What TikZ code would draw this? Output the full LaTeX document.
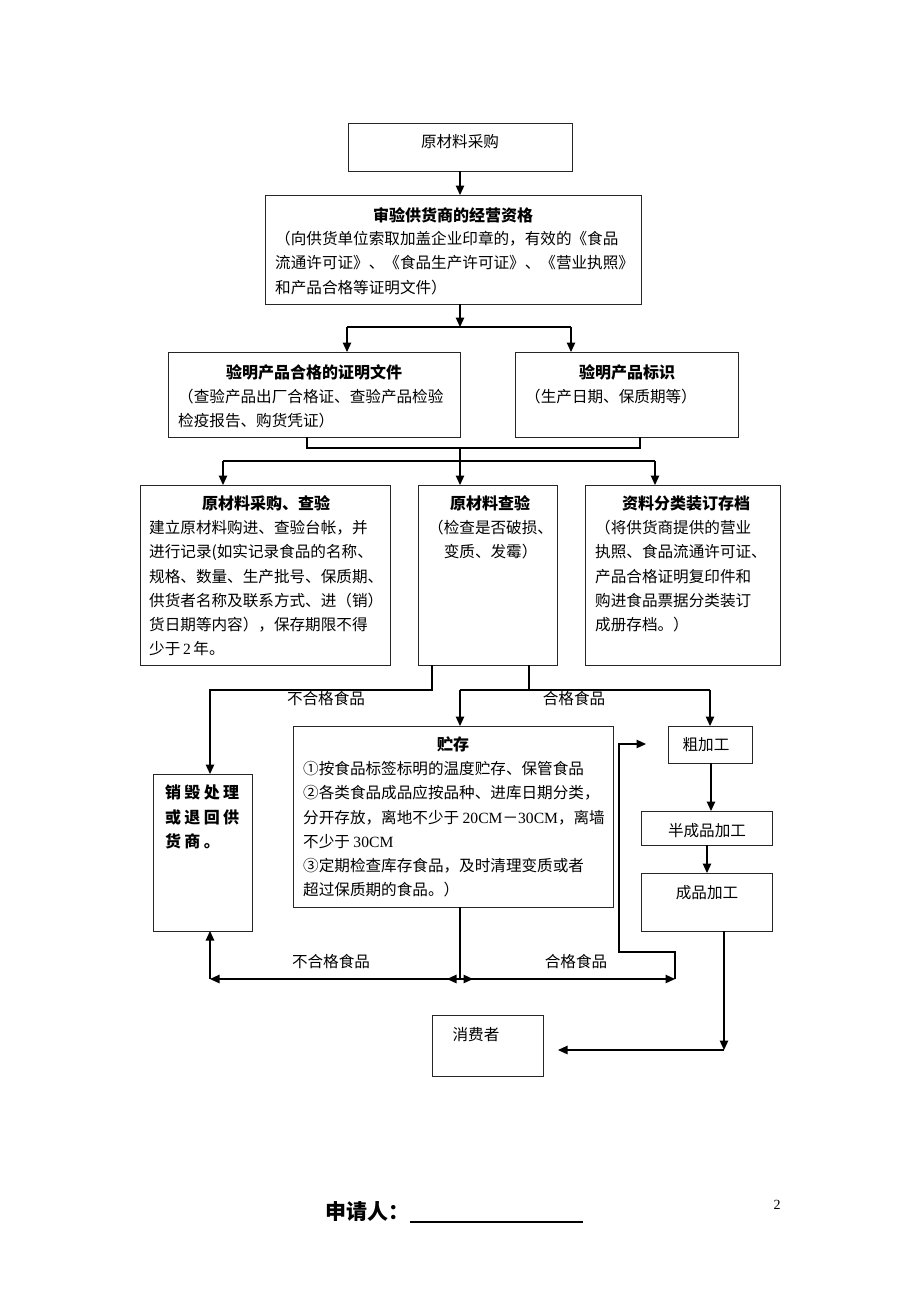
\documentclass[tikz,border=0pt]{standalone}
\usepackage{fontspec}
\setmainfont{Noto Sans CJK SC}
\newfontfamily\latf{Liberation Serif}
\usetikzlibrary{arrows.meta}
\newcommand\bodyfont{\fontsize{15.6}{24.3}\selectfont}
\newcommand\ttlfont{\fontsize{16}{24.3}\selectfont\bfseries}
\newcommand\lsp{\hspace{3.3pt}}
\newcommand\mkbox[5]{\node[bx, minimum width={(#4)-(#2)}, minimum height={(#5)-(#3)}] (#1) at ({((#2)+(#4))/2},{((#3)+(#5))/2}) {};}
\begin{document}
\begin{tikzpicture}[x=1pt,y=-1pt,
  bx/.style={draw=black!85, line width=0.8pt, inner sep=0, outer sep=0},
  ln/.style={line width=1.2pt, draw=black},
  arr/.style={ln, -{Triangle[length=9.5pt,width=8.5pt]}},
  ttl/.style={font=\ttlfont, inner sep=0, anchor=center},
  body/.style={font=\bodyfont, inner sep=0, anchor=north west, align=left},
  lab/.style={font=\bodyfont, inner sep=0}]
\fill[white] (0,0) rectangle (920,1302);
\useasboundingbox (0,0) rectangle (920,1302);
% boxes
\mkbox{b1}{348}{123}{572}{171}
\mkbox{b2}{265}{195}{641}{304}
\mkbox{b3}{168}{352}{460}{437}
\mkbox{b4}{515}{352}{738}{437}
\mkbox{b5}{140}{485}{390}{665}
\mkbox{b6}{418}{485}{557}{665}
\mkbox{b7}{585}{485}{780}{665}
\mkbox{b8}{293}{726}{613}{907}
\mkbox{b9}{153}{774}{252}{931}
\mkbox{b10}{668}{726}{752}{763}
\mkbox{b11}{641}{811}{772}{845}
\mkbox{b12}{641}{873}{772}{931}
\mkbox{b13}{432}{1015}{543}{1076}
% texts
\node[lab] (t1) at (460,142) {原材料采购};
\node[ttl] (h2) at (453,215) {审验供货商的经营资格};
\node[body] (t2) at (275,231) {（向供货单位索取加盖企业印章的，有效的《食品\\流通许可证》、《食品生产许可证》、《营业执照》\\和产品合格等证明文件）};
\node[ttl] (h3) at (314,372) {验明产品合格的证明文件};
\node[body] (t3) at (178,389) {（查验产品出厂合格证、查验产品检验\\检疫报告、购货凭证）};
\node[ttl] (h4) at (627,372) {验明产品标识};
\node[body] (t4) at (525,389) {（生产日期、保质期等）};
\node[ttl] (h5) at (266,503) {原材料采购、查验};
\node[body] (t5) at (149,520) {建立原材料购进、查验台帐，并\\进行记录(如实记录食品的名称、\\规格、数量、生产批号、保质期、\\供货者名称及联系方式、进（销）\\货日期等内容），保存期限不得\\少于\,{\latf 2}\,年。};
\node[ttl] (h6) at (490,503) {原材料查验};
\node[body] (t6) at (428,520) {（检查是否破损、\\\hspace*{15.6pt}变质、发霉）};
\node[ttl] (h7) at (686,503) {资料分类装订存档};
\node[body] (t7) at (595,520) {（将供货商提供的营业\\执照、食品流通许可证、\\产品合格证明复印件和\\购进食品票据分类装订\\成册存档。）};
\node[ttl] (h8) at (453,744) {贮存};
\node[body] (t8) at (303,761) {①按食品标签标明的温度贮存、保管食品\\②各类食品成品应按品种、进库日期分类，\\分开存放，离地不少于 {\latf 20CM}－{\latf 30CM}，离墙\\不少于 {\latf 30CM}\\③定期检查库存食品，及时清理变质或者\\超过保质期的食品。）};
\node[body, font=\ttlfont] (t9) at (165,785) {销\lsp 毁\lsp 处\lsp 理\\或\lsp 退\lsp 回\lsp 供\\货\lsp 商\lsp 。};
\node[lab] (t10) at (706,745) {粗加工};
\node[lab] (t11) at (707,831) {半成品加工};
\node[lab] (t12) at (707,893) {成品加工};
\node[lab] (t13) at (476,1035) {消费者};
% connector labels
\node[lab] (l1) at (326,699) {不合格食品};
\node[lab] (l2) at (574,699) {合格食品};
\node[lab] (l3) at (331,962) {不合格食品};
\node[lab] (l4) at (576,962) {合格食品};
% junctions
\coordinate (j1) at (460,327);
\coordinate (j2) at (460,448);
\coordinate (j3) at (460,461);
\coordinate (j6) at (460,979);
\coordinate (k1) at (210,979);
\coordinate (k2) at (675,979);
\coordinate (k3) at (646,744);
\coordinate (k4) at (724,1050);
\coordinate (k5) at (558,1050);
% connectors
\draw[arr] (b1.south) -- (b1.south |- b2.north);
\draw[arr] (b2.south -| j1) -- (j1);
\draw[ln] (347,0 |- j1) -- (571,0 |- j1);
\draw[arr] (347,0 |- j1) -- (347,0 |- b3.north);
\draw[arr] (571,0 |- j1) -- (571,0 |- b4.north);
\draw[ln] (307,0 |- b3.south) |- (j2) -| (640,0 |- b4.south);
\draw[ln] (j2) -- (j3);
\draw[ln] (223,0 |- j3) -- (655,0 |- j3);
\draw[arr] (223,0 |- j3) -- (223,0 |- b5.north);
\draw[arr] (j3) -- (j3 |- b6.north);
\draw[arr] (655,0 |- j3) -- (655,0 |- b7.north);
\draw[arr] (432,0 |- b6.south) |- (210,690) -- (210,0 |- b9.north);
\draw[ln] (529,0 |- b6.south) -- (529,690);
\draw[ln] (460,690) -- (710,690);
\draw[arr] (460,690) -- (460,0 |- b8.north);
\draw[arr] (710,690) -- (710,0 |- b10.north);
\draw[ln] (460,0 |- b8.south) -- (j6);
\draw[arr] (j6) -- (k1);
\draw[arr] (k1) -- (k1 |- b9.south);
\draw[arr] (j6) -- ++(-13,0);
\draw[arr] (j6) -- ++(13,0);
\draw[arr] (j6) -- (k2);
\draw[arr] (k2) -- (675,952) -- (619,952) -- (619,0 |- k3) -- (k3);
\draw[arr] (711,0 |- b10.south) -- (711,0 |- b11.north);
\draw[arr] (707,0 |- b11.south) -- (707,0 |- b12.north);
\draw[arr] (724,0 |- b12.south) -- (k4);
\draw[arr] (k4) -- (k5);
% footer
\node[anchor=west, inner sep=0, font=\fontsize{21}{24}\selectfont\bfseries] (sq) at (325,1212) {申请人：};
\coordinate (u1) at (410,1222);
\coordinate (u2) at (583,1222);
\draw[line width=1.6pt] (u1) -- (u2);
\node[inner sep=0, font=\latf\fontsize{14}{16}\selectfont] (pg) at (777,1205) {2};
\end{tikzpicture}
\end{document}
